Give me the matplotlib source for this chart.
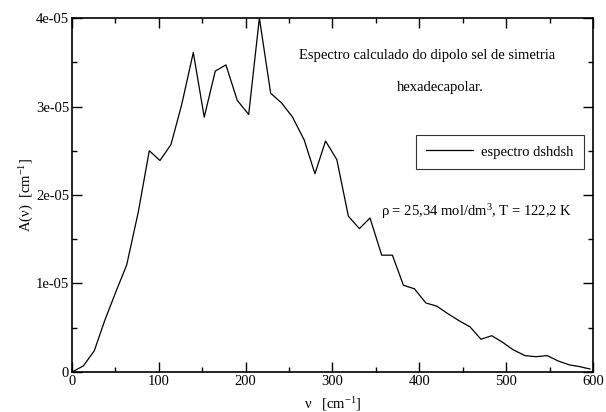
import matplotlib
matplotlib.use('Agg')
import matplotlib.pyplot as plt
from matplotlib.ticker import MultipleLocator, FuncFormatter

plt.rcParams['font.family'] = ['Liberation Serif', 'DejaVu Serif']
plt.rcParams['mathtext.fontset'] = 'custom'
plt.rcParams['mathtext.rm'] = 'Liberation Serif'
plt.rcParams['mathtext.it'] = 'Liberation Serif:italic'

# spectrum (x in cm^-1, y in 1e-6 cm^-1)
nu = [0, 13, 25.7, 38, 50.7, 63, 76.4, 89, 101.3, 114, 126.3, 139.7, 152.3, 165,
      177.3, 190.3, 203.5, 215.8, 228.8, 241.4, 254, 267.5, 279.8, 292, 305, 318.3,
      331, 343.2, 356.7, 369, 381.7, 394.4, 407.5, 420, 432.7, 445.7, 458.4, 471,
      483.4, 496, 508.3, 521.7, 534.3, 547.4, 560, 573, 585, 596.5]
amp = [0, 0.68, 2.4, 5.9, 9.1, 12.1, 18.1, 25.0, 23.9, 25.7, 30.2, 36.1, 28.8, 34.0,
       34.7, 30.7, 29.1, 40.0, 31.5, 30.4, 28.8, 26.2, 22.4, 26.1, 24.0, 17.6,
       16.2, 17.4, 13.2, 13.2, 9.8, 9.4, 7.8, 7.45, 6.6, 5.8, 5.1, 3.7,
       4.1, 3.35, 2.5, 1.85, 1.73, 1.85, 1.24, 0.8, 0.6, 0.34]
amp = [a * 1e-6 for a in amp]

fig = plt.figure(figsize=(6.06, 4.12), dpi=100)
ax = fig.add_axes([0.1188, 0.0971, 0.8597, 0.8592])

ax.plot(nu, amp, color='black', lw=0.9, label='espectro dshdsh')

ax.set_xlim(0, 600)
ax.set_ylim(0, 4e-5)
ax.xaxis.set_major_locator(MultipleLocator(100))
ax.xaxis.set_minor_locator(MultipleLocator(50))
ax.yaxis.set_major_locator(MultipleLocator(1e-5))
ax.yaxis.set_minor_locator(MultipleLocator(0.5e-5))
ax.yaxis.set_major_formatter(FuncFormatter(lambda v, p: '0' if v == 0 else '{:.0e}'.format(v)))

ax.tick_params(which='both', direction='in', top=True, right=True, labelsize=10.5, width=1, pad=2)
ax.tick_params(which='major', length=7)
ax.tick_params(which='minor', length=3.5)
for s in ax.spines.values():
  s.set_linewidth(1.2)

ax.set_xlabel(r'ν   [cm$^{-1}$]', fontsize=10.5, labelpad=5)
ax.set_ylabel(r'A(ν)  [cm$^{-1}$]', fontsize=10.5, labelpad=0)

ax.text(409, 3.58e-5, 'Espectro calculado do dipolo sel de simetria', fontsize=10.5, ha='center', va='center')
ax.text(424, 3.22e-5, 'hexadecapolar.', fontsize=10.5, ha='center', va='center')
ax.text(466, 1.81e-5, r'ρ = 25,34 mol/dm$^{3}$, T = 122,2 K', fontsize=10.5, ha='center', va='center')

leg = ax.legend(loc='upper left', bbox_to_anchor=(0.660, 0.669), fontsize=10.5, frameon=True,
                fancybox=False, edgecolor='black', handlelength=3.2, borderpad=0.7,
                handletextpad=0.6, borderaxespad=0)
leg.get_frame().set_linewidth(0.8)

fig.savefig('out.png', dpi=100)
